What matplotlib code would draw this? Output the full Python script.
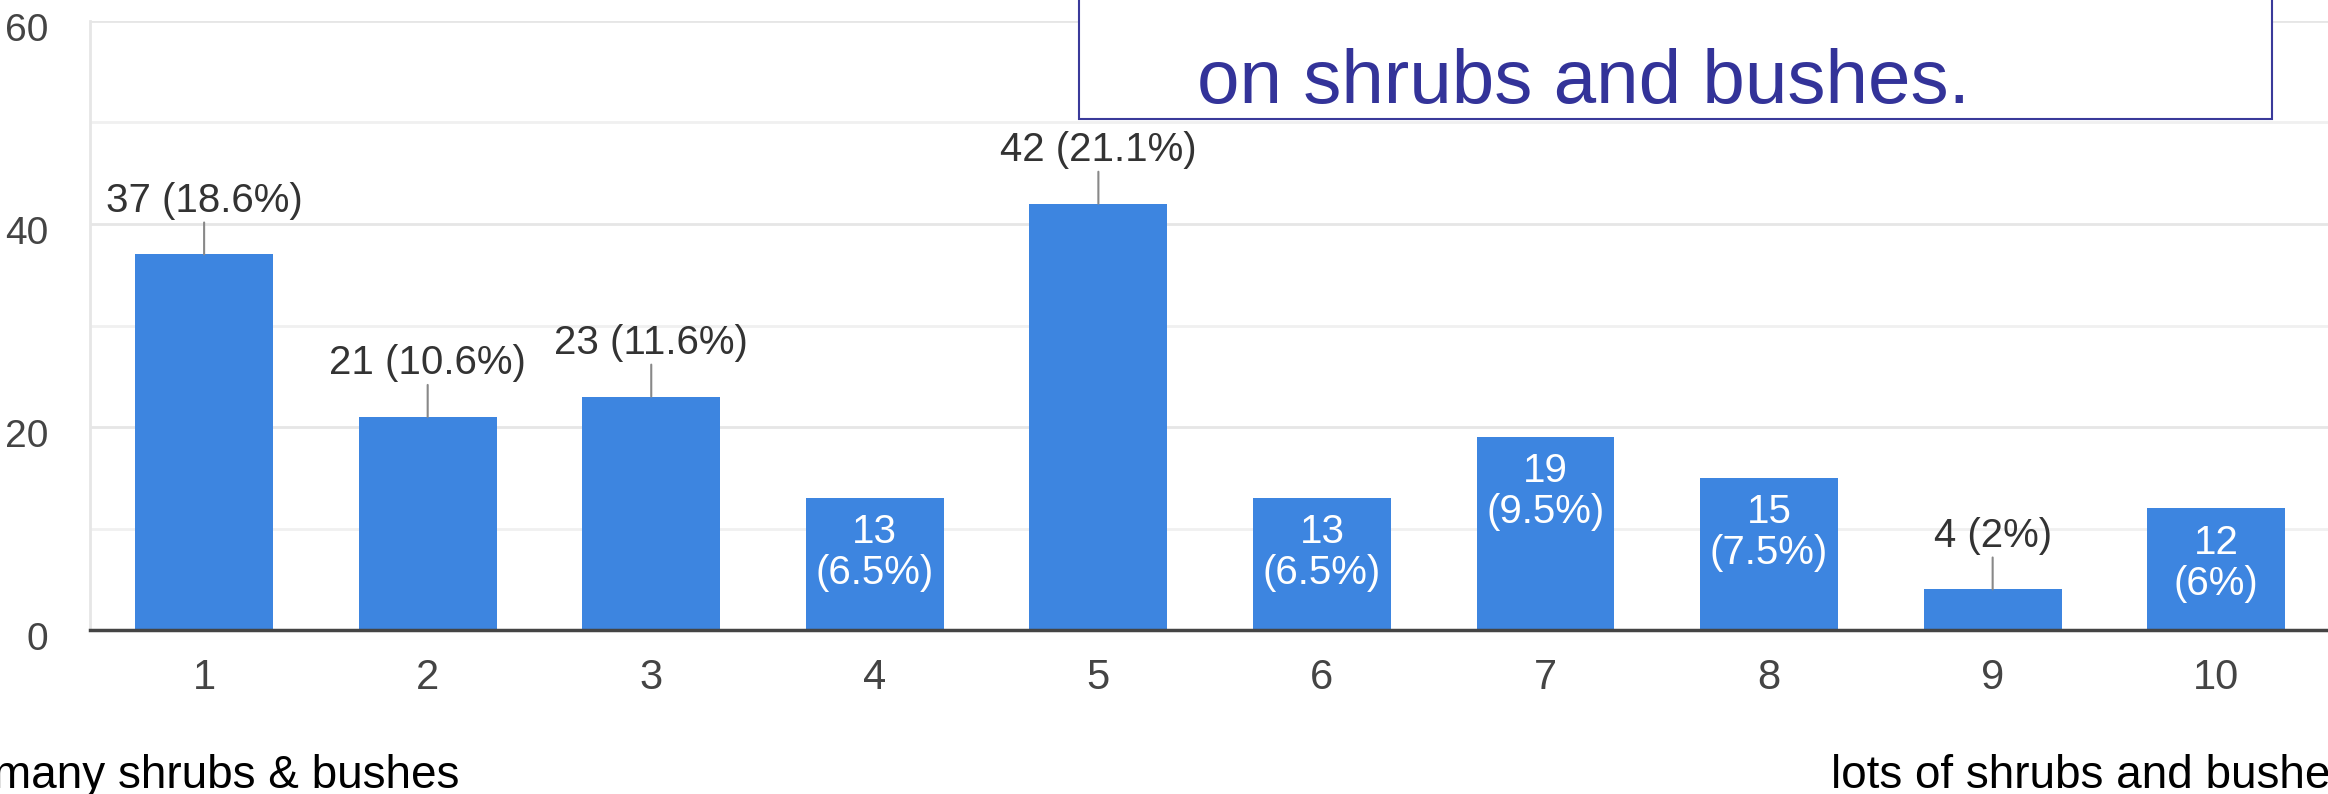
import matplotlib.pyplot as plt
from matplotlib.patches import Rectangle
from matplotlib.transforms import ScaledTranslation

plt.rcParams['font.family'] = ['Liberation Sans', 'DejaVu Sans']

# data
ratings = [1, 2, 3, 4, 5, 6, 7, 8, 9, 10]
counts = [37, 21, 23, 13, 42, 13, 19, 15, 4, 12]
percents = ['18.6%', '10.6%', '11.6%', '6.5%', '21.1%', '6.5%', '9.5%', '7.5%', '2%', '6%']
inside = [False, False, False, True, False, True, True, True, False, True]
yticks = [0, 20, 40, 60]
yminor = [10, 30, 50]
low_label = 'many shrubs & bushes'
high_label = 'lots of shrubs and bushes'
box_text = 'on shrubs and bushes.'

fig = plt.figure(figsize=(23.28, 7.94), dpi=100)
ax = fig.add_axes([0.0387, 0.2065, 0.9613, 0.7671])
ax.set_xlim(0.49, 10.5)
ax.set_ylim(0, 60)
ax.set_xticks(ratings)
ax.set_yticks(yticks)
ax.set_yticks(yminor, minor=True)
ax.grid(axis='y', which='major', color='#e6e6e6', lw=2)
ax.grid(axis='y', which='minor', color='#f0f0f0', lw=2)
ax.set_axisbelow(True)

ax.bar(ratings, counts, width=0.617, color='#3d85e0', zorder=2)

ax.spines['top'].set_visible(False)
ax.spines['right'].set_visible(False)
ax.spines['left'].set_color('#e6e6e6')
ax.spines['left'].set_linewidth(2)
ax.spines['bottom'].set_color('#444444')
ax.spines['bottom'].set_linewidth(2.5)
ax.tick_params(axis='both', which='both', length=0)
ax.tick_params(axis='x', labelsize=30, labelcolor='#444444', pad=20)
ax.tick_params(axis='y', labelsize=28, labelcolor='#444444', pad=30)
# y labels sit a little below their gridlines in the original
for lab in ax.get_yticklabels():
    lab.set_transform(lab.get_transform() + ScaledTranslation(0, -4 / 72, fig.dpi_scale_trans))

for x, c, p, ins in zip(ratings, counts, percents, inside):
    if ins:
        ax.annotate(f'{c}\n({p})', (x, c), xytext=(0, -11), textcoords='offset points',
                    ha='center', va='top', color='white', fontsize=29, linespacing=1.1)
    else:
        ax.annotate(f'{c} ({p})', (x, c), xytext=(0, 25), textcoords='offset points',
                    ha='center', va='bottom', color='#333333', fontsize=29,
                    arrowprops=dict(arrowstyle='-', color='#888888', lw=1.5,
                                    shrinkA=0, shrinkB=0))

# overlay box from the slide
fig.add_artist(Rectangle((0.4635, 0.850), 0.5125, 0.3, transform=fig.transFigure,
                         fc='white', ec='#3a3a9a', lw=1.5, zorder=5))
fig.text(0.514, 0.870, box_text, color='#333399', fontsize=55, zorder=6)

fig.text(-0.003, 0.0076, low_label, fontsize=33, va='baseline', color='black')
fig.text(0.7865, 0.0076, high_label, fontsize=33, va='baseline', color='black')

fig.savefig('out.png', dpi=100)
